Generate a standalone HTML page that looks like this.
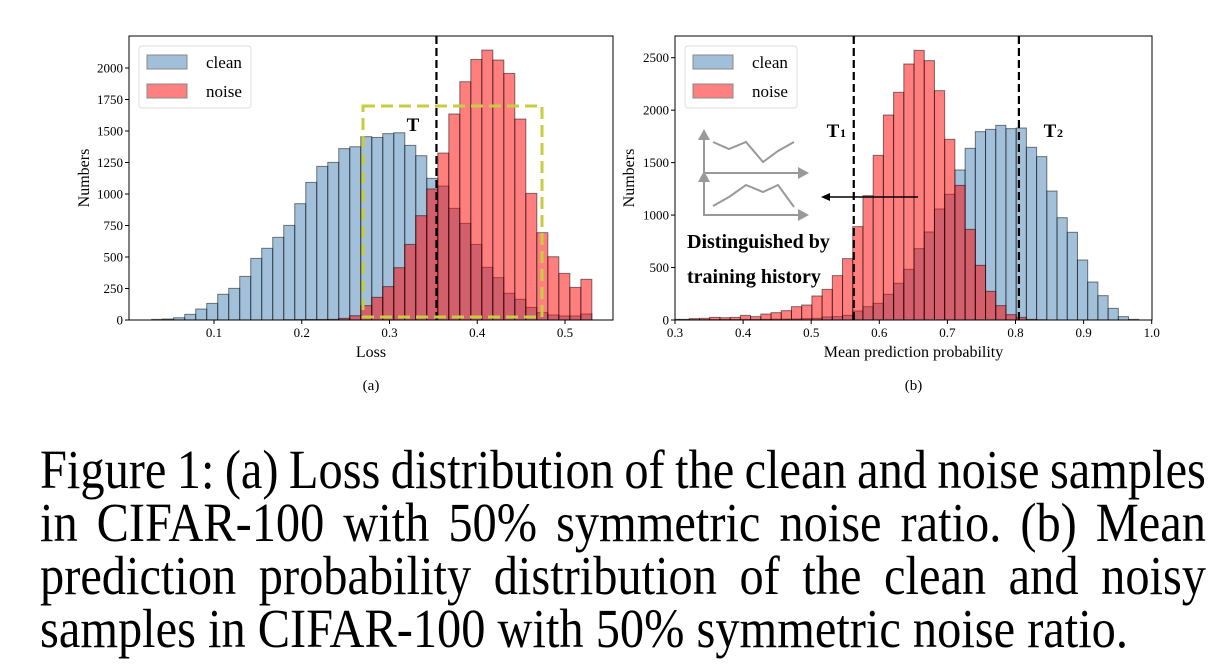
<!DOCTYPE html>
<html><head><meta charset="utf-8"><style>
body{margin:0;background:#fff;width:1226px;height:671px;overflow:hidden}
svg text{font-family:"Liberation Serif",serif}
.cap{position:absolute;left:40px;width:1325px;font-family:"Liberation Serif",serif;font-size:55px;line-height:55px;color:#000;white-space:nowrap;transform:scaleX(0.88);transform-origin:0 0}
.j{display:flex;justify-content:space-between}
</style></head><body>
<svg id="fig" width="1226" height="671" style="position:absolute;left:0;top:0"></svg>
<div class="cap j" style="top:442px"><span>Figure</span><span>1:</span><span>(a)</span><span>Loss</span><span>distribution</span><span>of</span><span>the</span><span>clean</span><span>and</span><span>noise</span><span>samples</span></div>
<div class="cap j" style="top:495px"><span>in</span><span>CIFAR-100</span><span>with</span><span>50%</span><span>symmetric</span><span>noise</span><span>ratio.</span><span>(b)</span><span>Mean</span></div>
<div class="cap j" style="top:548px"><span>prediction</span><span>probability</span><span>distribution</span><span>of</span><span>the</span><span>clean</span><span>and</span><span>noisy</span></div>
<div class="cap" style="top:601px">samples in CIFAR-100 with 50% symmetric noise ratio.</div>
<script>
// ---- chart (a) data ----
const aBinStart = 0.029, aBinWidth = 0.01254;
const aClean = [5,8,18,45,87,132,204,251,346,489,569,656,751,923,1092,1219,1251,1360,1375,1455,1449,1479,1486,1386,1304,1124,1063,886,767,600,418,336,212,164,100,58,40,32,32,48];
const aNoise = [0,0,0,0,0,0,0,0,0,0,0,0,2,3,4,4,5,13,34,114,180,265,415,600,828,1040,1325,1635,1891,2068,2142,2063,1957,1595,1005,693,502,370,259,323];
const aYTicks = [0,250,500,750,1000,1250,1500,1750,2000];
const aXTicks = [0.1,0.2,0.3,0.4,0.5];
const aThreshold = 0.3535;
// ---- chart (b) data ----
const bBinStart = 0.291, bBinWidth = 0.015;
const bClean = [3,3,3,4,4,5,5,6,6,7,8,9,10,13,16,29,32,44,86,127,159,245,350,483,680,839,1058,1198,1430,1636,1795,1817,1855,1824,1830,1646,1557,1229,975,836,572,362,232,111,32,6];
const bNoise = [6,6,13,16,25,22,25,44,32,57,70,89,127,143,229,292,423,585,890,1185,1569,1954,2170,2440,2570,2472,2186,1722,1283,864,521,273,137,51,25,6,2,0,0,0,0,0,0,0,0,0];
const bYTicks = [0,500,1000,1500,2000,2500];
const bXTicks = [0.3,0.4,0.5,0.6,0.7,0.8,0.9,1.0];
const bT1 = 0.5625, bT2 = 0.805;

const NS='http://www.w3.org/2000/svg';
const svg=document.getElementById('fig');
function mk(tag,attrs,parent){const e=document.createElementNS(NS,tag);for(const k in attrs)e.setAttribute(k,attrs[k]);(parent||svg).appendChild(e);return e;}
function txt(s,attrs,parent){const e=mk('text',attrs,parent);e.textContent=s;return e;}

function chart(cfg){
  const g=mk('g',{});
  
  
  const X=v=>cfg.x0px+(v-cfg.xmin)*cfg.xscale;
  const Y=v=>cfg.base-v*cfg.yscale;
  const clip=mk('clipPath',{id:cfg.name+'-clip'},g);
  mk('rect',{x:cfg.left,y:cfg.top,width:cfg.right-cfg.left,height:cfg.base-cfg.top},clip);
  const bars=mk('g',{'clip-path':'url(#'+cfg.name+'-clip)'},g);
  const series=[[cfg.clean,'#4682b4','clean'],[cfg.noise,'#ff0000','noise']];
  series.forEach(([arr,col,nm])=>{
    arr.forEach((v,i)=>{
      if(v<=0)return;
      const x=X(cfg.bs+i*cfg.bw), w=cfg.bw*cfg.xscale;
      const r=mk('rect',{x:x,y:Y(v),width:w,height:v*cfg.yscale,fill:col,'fill-opacity':0.5,stroke:'#000','stroke-opacity':0.5,'stroke-width':1},bars);
      
      
    });
  });
  const fr=mk('rect',{x:cfg.left,y:cfg.top,width:cfg.right-cfg.left,height:cfg.base-cfg.top,fill:'none',stroke:'#000','stroke-width':1},g);
  
  cfg.yt.forEach(t=>{
    const y=Y(t);
    mk('line',{x1:cfg.left-4,x2:cfg.left,y1:y,y2:y,stroke:'#000'},g);
    const l=txt(String(t),{x:cfg.left-6,y:y+4.5,'font-size':13,'text-anchor':'end'},g);
    
  });
  cfg.xt.forEach(t=>{
    const x=X(t);
    mk('line',{x1:x,x2:x,y1:cfg.base,y2:cfg.base+4,stroke:'#000'},g);
    const l=txt(t.toFixed(1),{x:x,y:cfg.base+17,'font-size':13,'text-anchor':'middle'},g);
    
  });
  cfg.vlines.forEach(v=>{
    const l=mk('line',{x1:X(v),x2:X(v),y1:cfg.top,y2:cfg.base,stroke:'#000','stroke-width':2.2,'stroke-dasharray':'8,4'},g);
    
  });
  const lg=mk('g',{},g);
  
  mk('rect',{x:cfg.left+10,y:cfg.top+10,width:112,height:62,rx:3,fill:'#fff','fill-opacity':0.8,stroke:'#ddd'},lg);
  [['clean','#a2bfd9',0],['noise','#ff8080',1]].forEach(([s,c,i])=>{
    const yy=cfg.top+19+i*29;
    const e=mk('rect',{x:cfg.left+18,y:yy,width:40,height:14,fill:c,stroke:'#888'},lg);
    
    txt(s,{x:cfg.left+77,y:yy+13,'font-size':17},lg);
  });
  const yl=txt('Numbers',{x:0,y:0,'font-size':16,'text-anchor':'middle',transform:`translate(${cfg.ylx},${(cfg.top+cfg.base)/2}) rotate(-90)`},g);
  
  const xl=txt(cfg.xlabel,{x:(cfg.left+cfg.right)/2,y:cfg.base+37,'font-size':16,'text-anchor':'middle'},g);
  
  const sl=txt(cfg.sub,{x:(cfg.left+cfg.right)/2,y:390,'font-size':15,'text-anchor':'middle'},g);
  
  return {g,X,Y};
}

const A=chart({name:'chart-a',left:129,right:613,top:36,base:320,xmin:0,x0px:126.25,xscale:877.5,yscale:0.126,bs:aBinStart,bw:aBinWidth,clean:aClean,noise:aNoise,yt:aYTicks,xt:aXTicks,vlines:[aThreshold],xlabel:'Loss',sub:'(a)',ylx:89});
const box=mk('rect',{x:363,y:106,width:179,height:211,fill:'none',stroke:'#c8cc40','stroke-width':3,'stroke-dasharray':'12,6'},A.g);

const tA=txt('T',{x:413,y:131,'font-size':19,'font-weight':'bold','text-anchor':'middle'},A.g);


const B=chart({name:'chart-b',left:675,right:1152,top:36,base:320,xmin:0.3,x0px:675,xscale:681,yscale:262.3/2500,bs:bBinStart,bw:bBinWidth,clean:bClean,noise:bNoise,yt:bYTicks,xt:bXTicks,vlines:[bT1,bT2],xlabel:'Mean prediction probability',sub:'(b)',ylx:634});
const t1=txt('T',{x:833,y:137,'font-size':19,'font-weight':'bold','text-anchor':'middle'},B.g);

txt('1',{x:840,y:137,'font-size':12,'font-weight':'bold'},B.g);
const t2=txt('T',{x:1050,y:137,'font-size':19,'font-weight':'bold','text-anchor':'middle'},B.g);

txt('2',{x:1057,y:137,'font-size':12,'font-weight':'bold'},B.g);
const ic=mk('g',{stroke:'#999','stroke-width':2,fill:'none'},B.g);

mk('polyline',{points:'704,138 704,173 800,173'},ic);
mk('polyline',{points:'704,180 704,215 800,215'},ic);
mk('polyline',{points:'713,142 729,149 746,142 763,162 778,151 794,142'},ic);
mk('polyline',{points:'713,206 729,197 746,185 763,192 778,185 794,207'},ic);
[[704,129,698,140,710,140],[704,171,698,182,710,182],[809,173,798,167,798,179],[809,215,798,209,798,221]].forEach(p=>mk('polygon',{points:`${p[0]},${p[1]} ${p[2]},${p[3]} ${p[4]},${p[5]}`,fill:'#999',stroke:'none'},ic));
const ar=mk('g',{},B.g);

mk('line',{x1:918,y1:197,x2:826,y2:197,stroke:'#000','stroke-width':1.5},ar);
mk('polygon',{points:'821,197 830,193 830,201',fill:'#000'},ar);
const d1=txt('Distinguished by',{x:687,y:248,'font-size':20,'font-weight':'bold'},B.g);

const d2=txt('training history',{x:687,y:283,'font-size':20,'font-weight':'bold'},B.g);

</script>
</body></html>
